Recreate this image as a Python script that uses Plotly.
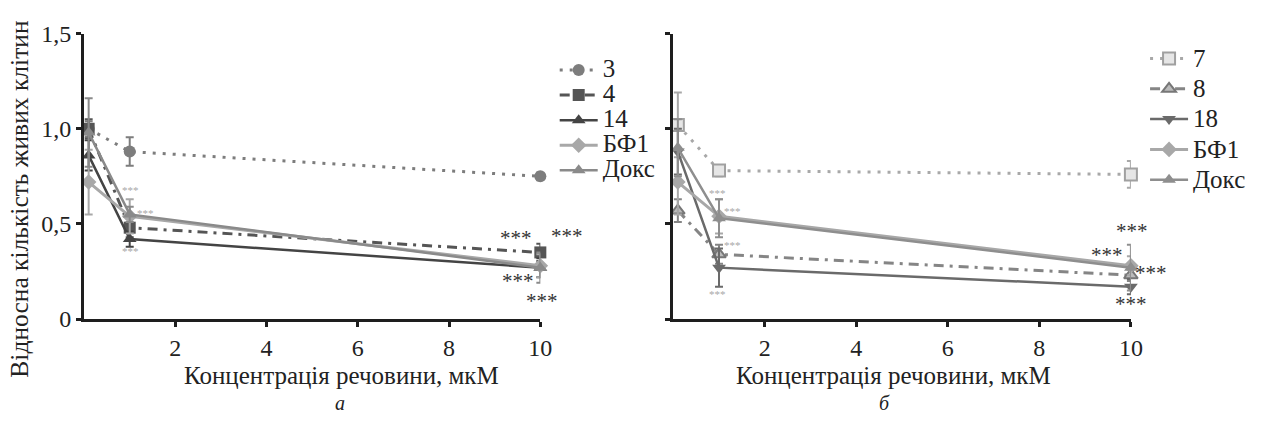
import plotly.graph_objects as go

FONT = "Liberation Serif, Times New Roman, serif"

# ---------------- data ----------------
conc = [0.1, 1, 10]

# panel a
a_names = ["3", "4", "14", "БФ1", "Докс"]
a_3 = [1.00, 0.88, 0.75]
a_3_err = [0.04, 0.075, 0.02]
a_4 = [1.00, 0.48, 0.35]
a_4_err = [0.05, 0.05, 0.045]
a_14 = [0.86, 0.42, 0.27]
a_14_err = [0.08, 0.04, 0.05]
a_bf1 = [0.72, 0.54, 0.28]
a_bf1_err = [0.17, 0.09, 0.06]
a_doks = [0.98, 0.55, 0.27]
a_doks_err = [0.18, 0.04, 0.08]

# panel б
b_names = ["7", "8", "18", "БФ1", "Докс"]
b_7 = [1.02, 0.78, 0.76]
b_7_err = [0.17, 0.03, 0.07]
b_8 = [0.57, 0.34, 0.23]
b_8_err = [0.06, 0.05, 0.03]
b_18 = [0.88, 0.27, 0.17]
b_18_err = [0.12, 0.10, 0.04]
b_bf1 = [0.72, 0.54, 0.28]
b_bf1_err = [0.17, 0.09, 0.05]
b_doks = [0.90, 0.53, 0.27]
b_doks_err = [0.15, 0.10, 0.12]

x_ticks = [2, 4, 6, 8, 10]
y_ticks = [0, 0.5, 1.0, 1.5]
y_ticktext = ["0", "0,5", "1,0", "1,5"]

# significance marks "***" (data units of each panel)
a_stars_x = [1.02, 1.35, 1.02, 9.46, 10.59, 9.52, 10.04]
a_stars_y = [0.676, 0.557, 0.36, 0.424, 0.434, 0.20, 0.094]
a_stars_big = [False, False, False, True, True, True, True]
b_stars_x = [0.97, 1.30, 1.30, 0.97, 10.02, 9.48, 10.45, 10.0]
b_stars_y = [0.66, 0.567, 0.39, 0.133, 0.464, 0.335, 0.242, 0.079]
b_stars_big = [False, False, False, False, True, True, True, True]

W, H = 1268, 424
XDOM_A = [84.9 / W, 545.5 / W]
XDOM_B = [679.7 / W, 1141.7 / W]
YDOM = [1 - 326 / H, 1 - 22 / H]
XR = [0, 10]
YR = [0, 1.5]

DOT = "3px,7px"
DASHDOT = "10px,6px,3px,6px"

fig = go.Figure()


def add(x, y, err, name, color, dash, width, symbol, mcolor, mline, xa, ya, legend):
    fig.add_trace(go.Scatter(
        x=x, y=y, name=f'<span style="font-size:25px">{name}</span>',
        mode="lines+markers",
        line=dict(color=color, dash=dash, width=width),
        marker=dict(symbol=symbol, size=12, color=mcolor,
                    line=dict(color=mline if mline else mcolor, width=2 if mline else 0)),
        error_y=dict(type="data", array=err, color=color, thickness=2, width=4),
        xaxis=xa, yaxis=ya, legend=legend, cliponaxis=False,
    ))


add(conc, a_3, a_3_err, a_names[0], "#7d7d7d", DOT, 3, "circle", "#7d7d7d", None, "x", "y", "legend")
add(conc, a_4, a_4_err, a_names[1], "#555555", DASHDOT, 3, "square", "#555555", None, "x", "y", "legend")
add(conc, a_14, a_14_err, a_names[2], "#444444", "solid", 2.5, "triangle-up", "#444444", None, "x", "y", "legend")
add(conc, a_bf1, a_bf1_err, a_names[3], "#a8a8a8", "solid", 3, "diamond", "#a8a8a8", None, "x", "y", "legend")
add(conc, a_doks, a_doks_err, a_names[4], "#8a8a8a", "solid", 2.5, "triangle-up", "#8a8a8a", None, "x", "y", "legend")

add(conc, b_7, b_7_err, b_names[0], "#a8a8a8", DOT, 3, "square", "#e6e6e6", "#a0a0a0", "x2", "y2", "legend2")
add(conc, b_8, b_8_err, b_names[1], "#858585", DASHDOT, 3, "triangle-up", "#bbbbbb", "#777777", "x2", "y2", "legend2")
add(conc, b_18, b_18_err, b_names[2], "#6a6a6a", "solid", 2.5, "triangle-down", "#6a6a6a", None, "x2", "y2", "legend2")
add(conc, b_bf1, b_bf1_err, b_names[3], "#a8a8a8", "solid", 3, "diamond", "#a8a8a8", None, "x2", "y2", "legend2")
add(conc, b_doks, b_doks_err, b_names[4], "#8e8e8e", "solid", 2.5, "triangle-up", "#8e8e8e", None, "x2", "y2", "legend2")

axis_common = dict(showline=True, linecolor="#1e1e1e", linewidth=3, ticks="outside",
                   ticklen=5, tickwidth=3, tickcolor="#1e1e1e", showgrid=False, zeroline=False,
                   tickfont=dict(family=FONT, size=24, color="#222"))

fig.update_layout(
    width=W, height=H, margin=dict(l=0, r=0, t=0, b=0),
    paper_bgcolor="white", plot_bgcolor="white",
    font=dict(family=FONT, color="#222"),
    xaxis=dict(domain=XDOM_A, range=XR, tickvals=x_ticks, anchor="y", **axis_common),
    yaxis=dict(domain=YDOM, range=YR, tickvals=y_ticks, ticktext=y_ticktext, anchor="x", **axis_common),
    xaxis2=dict(domain=XDOM_B, range=XR, tickvals=x_ticks, anchor="y2", **axis_common),
    yaxis2=dict(domain=YDOM, range=YR, tickvals=y_ticks, showticklabels=False, anchor="x2", **axis_common),
    legend=dict(x=560 / W, y=1 - 42 / H, xanchor="left", yanchor="top",
                font=dict(family=FONT, size=17, color="#222"), itemwidth=38,
                bgcolor="rgba(0,0,0,0)", tracegroupgap=0),
    legend2=dict(x=1156 / W, y=1 - 27 / H, xanchor="left", yanchor="top",
                 font=dict(family=FONT, size=21, color="#222"), itemwidth=38,
                 bgcolor="rgba(0,0,0,0)", tracegroupgap=0),
)


def to_paper(xv, yv, xdom):
    px = xdom[0] + (xv - XR[0]) / (XR[1] - XR[0]) * (xdom[1] - xdom[0])
    py = YDOM[0] + (yv - YR[0]) / (YR[1] - YR[0]) * (YDOM[1] - YDOM[0])
    return px, py


ann = []
for xs, ys, bigs, xdom in [(a_stars_x, a_stars_y, a_stars_big, XDOM_A),
                           (b_stars_x, b_stars_y, b_stars_big, XDOM_B)]:
    for xv, yv, big in zip(xs, ys, bigs):
        px, py = to_paper(xv, yv, xdom)
        ann.append(dict(x=px, y=py, xref="paper", yref="paper", xanchor="center", yanchor="middle",
                        text="***", showarrow=False,
                        font=dict(family=FONT, size=21 if big else 11,
                                  color="#333" if big else "#a8a8a8")))


def label(xpx, ypx, text, size=26, angle=0):
    return dict(x=xpx / W, y=1 - ypx / H, xref="paper", yref="paper", text=text,
                xanchor="center", yanchor="middle", textangle=angle, showarrow=False,
                borderpad=0, font=dict(family=FONT, size=size, color="#222"))


ann += [
    label(20, 198, "Відносна кількість живих клітин", 25.5, -90),
    label(345, 386.5, "Концентрація речовини, мкМ", 25),
    label(902, 386.5, "Концентрація речовини, мкМ", 25),
    label(343, 415, "<i>а</i>", 20),
    label(893, 415, "<i>б</i>", 20),
]
fig.update_layout(annotations=ann)

fig.write_html("out.html")
